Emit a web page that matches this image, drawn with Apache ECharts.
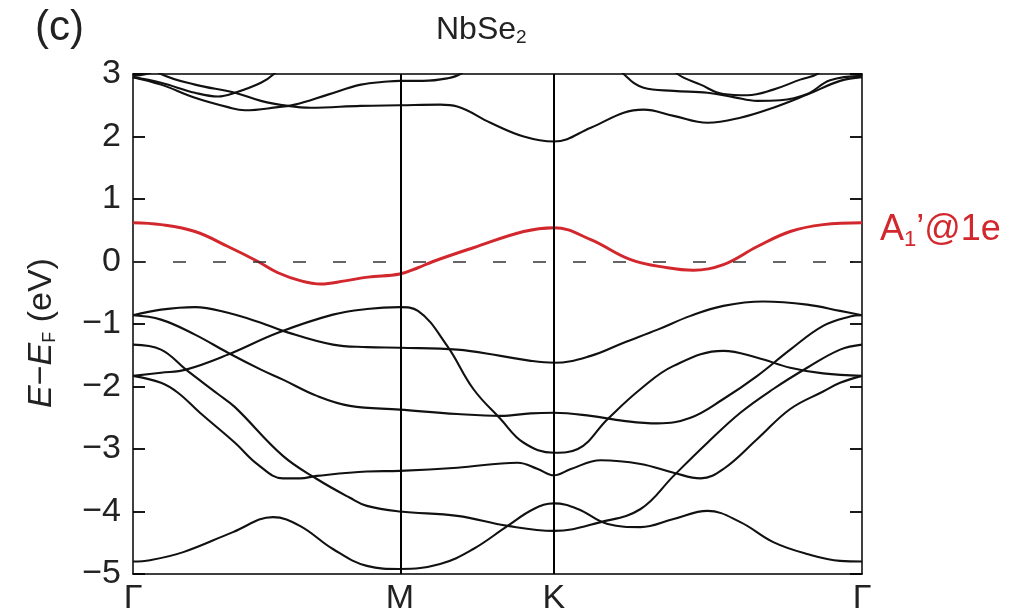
<!DOCTYPE html>
<html>
<head>
<meta charset="utf-8">
<script src="https://cdn.jsdelivr.net/npm/echarts@6/dist/echarts.min.js"></script>
<style>
html,body{margin:0;padding:0;background:#fff;}
#chart{width:1017px;height:616px;}
</style>
</head>
<body>
<div id="chart"></div>
<script>
// High-symmetry path positions (k-path length) and their labels
const kPoints = [0, 0.5774, 0.9107, 1.5774];
const kLabels = ['Γ', 'M', 'K', 'Γ'];
const yTicks = [-5, -4, -3, -2, -1, 0, 1, 2, 3];

// Highlighted band A1'@1e  [k, E-EF]
const bandRed = [[0,0.62],[0.0606,0.59],[0.1341,0.48],[0.2054,0.24],[0.2703,0.0],[0.3136,-0.18],[0.3635,-0.31],[0.4066,-0.36],[0.4585,-0.31],[0.5082,-0.25],[0.5774,-0.20],[0.6166,-0.10],[0.6493,0.0],[0.7364,0.22],[0.8454,0.48],[0.9107,0.54],[0.9905,0.35],[1.0768,0.03],[1.1567,-0.10],[1.2128,-0.14],[1.2775,-0.05],[1.3509,0.24],[1.4221,0.48],[1.4933,0.59],[1.5774,0.62]];

// Valence bands
const bandA = [[0,-0.86],[0.0606,-0.77],[0.1341,-0.73],[0.2054,-0.82],[0.2768,-0.98],[0.3244,-1.11],[0.4325,-1.33],[0.5060,-1.37],[0.5774,-1.38],[0.7016,-1.41],[0.7953,-1.51],[0.8606,-1.59],[0.9107,-1.62],[0.9905,-1.51],[1.0617,-1.30],[1.1351,-1.09],[1.2063,-0.87],[1.2775,-0.71],[1.3638,-0.64],[1.4588,-0.69],[1.5300,-0.79],[1.5774,-0.86]];
const bandB = [[0,-0.86],[0.0606,-0.93],[0.1341,-1.17],[0.2054,-1.46],[0.2768,-1.73],[0.3244,-1.89],[0.3979,-2.15],[0.4693,-2.31],[0.5774,-2.37],[0.7016,-2.44],[0.7953,-2.47],[0.8606,-2.43],[0.9107,-2.42],[0.9905,-2.47],[1.0617,-2.55],[1.1351,-2.59],[1.2063,-2.50],[1.2775,-2.20],[1.3509,-1.83],[1.4221,-1.41],[1.4933,-1.03],[1.5516,-0.88],[1.5774,-0.86]];
const bandC = [[0,-1.83],[0.0606,-1.78],[0.1146,-1.73],[0.2054,-1.49],[0.3136,-1.14],[0.4325,-0.85],[0.5060,-0.76],[0.5774,-0.73],[0.6166,-0.79],[0.6798,-1.35],[0.7364,-2.04],[0.7953,-2.52],[0.8454,-2.90],[0.9107,-3.06],[0.9625,-3.00],[1.0272,-2.52],[1.0984,-2.04],[1.1697,-1.67],[1.2775,-1.43],[1.3509,-1.54],[1.4221,-1.70],[1.4933,-1.79],[1.5774,-1.83]];
const bandD = [[0,-1.33],[0.0606,-1.41],[0.1146,-1.73],[0.1838,-2.12],[0.2206,-2.33],[0.3244,-3.11],[0.3979,-3.48],[0.4693,-3.78],[0.5060,-3.91],[0.5774,-4.00],[0.7016,-4.07],[0.8105,-4.23],[0.9107,-4.31],[1.0121,-4.17],[1.0984,-3.96],[1.1697,-3.43],[1.2430,-2.90],[1.3142,-2.42],[1.3854,-2.04],[1.4588,-1.70],[1.5300,-1.41],[1.5774,-1.33]];
const bandE = [[0,-1.83],[0.0606,-1.94],[0.0973,-2.10],[0.1449,-2.42],[0.2206,-2.90],[0.2703,-3.25],[0.3244,-3.47],[0.3611,-3.47],[0.3979,-3.43],[0.5060,-3.36],[0.5774,-3.35],[0.7016,-3.30],[0.8323,-3.22],[0.8759,-3.32],[0.9107,-3.42],[0.9474,-3.32],[1.0121,-3.18],[1.0984,-3.24],[1.1697,-3.38],[1.2281,-3.47],[1.2775,-3.32],[1.3509,-2.84],[1.4221,-2.36],[1.4933,-2.08],[1.5300,-1.94],[1.5774,-1.83]];
const bandF = [[0,-4.80],[0.0368,-4.78],[0.1088,-4.65],[0.2163,-4.33],[0.3028,-4.09],[0.3611,-4.23],[0.4325,-4.60],[0.5060,-4.87],[0.5774,-4.92],[0.6645,-4.84],[0.7364,-4.60],[0.8105,-4.23],[0.8672,-3.96],[0.9107,-3.87],[0.9625,-3.96],[1.0272,-4.20],[1.0984,-4.25],[1.1697,-4.12],[1.2430,-3.99],[1.3142,-4.17],[1.3854,-4.49],[1.4588,-4.68],[1.5300,-4.79],[1.5774,-4.80]];

// Conduction bands (partly above the plotted window)
const bandC1 = [[0,2.95],[0.0606,2.83],[0.1341,2.62],[0.2054,2.47],[0.2422,2.42],[0.3136,2.47],[0.3503,2.51],[0.4217,2.67],[0.4931,2.83],[0.5514,2.88],[0.5774,2.89],[0.6275,2.89],[0.6798,2.93],[0.7081,3.0],[0.7364,3.2]];
const bandC2 = [[0,3.3],[0.0606,3.0],[0.1341,2.83],[0.2206,2.70],[0.2768,2.57],[0.3352,2.49],[0.3849,2.46],[0.4931,2.49],[0.5774,2.50],[0.6645,2.51],[0.7016,2.48],[0.7735,2.22],[0.8454,2.00],[0.9107,1.92],[0.9905,2.14],[1.0617,2.38],[1.1049,2.43],[1.1697,2.33],[1.2430,2.22],[1.3142,2.30],[1.3854,2.46],[1.4588,2.67],[1.5300,2.89],[1.5774,2.95]];
const bandC3 = [[0,2.95],[0.0606,2.86],[0.1341,2.70],[0.1838,2.64],[0.2206,2.70],[0.2768,2.86],[0.3049,3.0],[0.3352,3.25]];
const bandC4 = [[0,2.97],[0.0368,3.02],[0.0606,3.15]];
const bandC5 = [[1.0272,3.3],[1.0617,3.0],[1.1049,2.78],[1.1697,2.73],[1.2430,2.70],[1.2991,2.63],[1.3509,2.57],[1.4005,2.58],[1.4588,2.68],[1.5084,2.90],[1.5774,2.97]];
const bandC6 = [[1.1567,3.2],[1.1783,3.0],[1.2281,2.83],[1.2775,2.68],[1.3293,2.66],[1.3854,2.75],[1.4437,2.91],[1.4803,3.0],[1.5084,3.2]];

const blackBands = [bandA, bandB, bandC, bandD, bandE, bandF, bandC1, bandC2, bandC3, bandC4, bandC5, bandC6];

const chart = echarts.init(document.getElementById('chart'), null, {renderer: 'canvas'});
const FONT = '"Liberation Sans", Arial, Helvetica, sans-serif';
const RED = '#d2272d';
const TXT = '#222';

const series = [];
// reference lines (high-symmetry verticals + Fermi level)
series.push({
  type: 'line', data: [], z: 1, silent: true,
  markLine: {
    silent: true, symbol: ['none', 'none'], label: {show: false},
    animation: false,
    data: [
      {yAxis: 0, lineStyle: {color: '#333', width: 1.5, type: [13, 27]}},
      {xAxis: kPoints[1], lineStyle: {color: '#000', width: 2, type: 'solid'}},
      {xAxis: kPoints[2], lineStyle: {color: '#000', width: 2, type: 'solid'}}
    ]
  }
});
blackBands.forEach(function (b) {
  series.push({
    type: 'line', data: b, showSymbol: false, smooth: 0.4, clip: true, z: 3,
    lineStyle: {color: '#111', width: 2.1}, silent: true
  });
});
series.push({
  type: 'line', data: bandRed, showSymbol: false, smooth: 0.4, clip: true, z: 4,
  lineStyle: {color: RED, width: 3}, silent: true
});

function labelFor(v) {
  for (let i = 0; i < kPoints.length; i++) if (Math.abs(v - kPoints[i]) < 1e-6) return kLabels[i];
  return '';
}

const option = {
  animation: false,
  backgroundColor: '#fff',
  grid: {left: 133, right: 155, top: 74, bottom: 41},
  xAxis: [{
    type: 'value', min: kPoints[0], max: kPoints[3], position: 'bottom',
    axisLine: {show: true, onZero: false, lineStyle: {color: '#000', width: 1.5}},
    axisTick: {show: false}, splitLine: {show: false},
    axisLabel: {
      customValues: kPoints, formatter: labelFor,
      fontSize: 34, color: TXT, margin: 8, fontFamily: FONT
    }
  }, {
    type: 'value', min: kPoints[0], max: kPoints[3], position: 'top',
    axisLine: {show: true, onZero: false, lineStyle: {color: '#000', width: 1.5}},
    axisTick: {show: false}, splitLine: {show: false}, axisLabel: {show: false}
  }],
  yAxis: [{
    type: 'value', min: yTicks[0], max: yTicks[yTicks.length - 1], interval: 1, position: 'left',
    axisLine: {show: true, onZero: false, lineStyle: {color: '#000', width: 1.5}},
    axisTick: {show: true, inside: true, length: 12, lineStyle: {color: '#000', width: 1.8}},
    splitLine: {show: false},
    axisLabel: {
      fontSize: 34, color: TXT, margin: 12, fontFamily: FONT,
      formatter: function (v) { return String(v).replace('-', '\u2212'); }
    }
  }, {
    type: 'value', min: yTicks[0], max: yTicks[yTicks.length - 1], interval: 1, position: 'right',
    axisLine: {show: true, onZero: false, lineStyle: {color: '#000', width: 1.5}},
    axisTick: {show: true, inside: true, length: 12, lineStyle: {color: '#000', width: 1.8}},
    splitLine: {show: false}, axisLabel: {show: false}
  }],
  graphic: [
    {type: 'text', left: 35, top: 7, style: {text: '(c)', fontSize: 42, fill: TXT, fontFamily: FONT}},
    {type: 'text', left: 436, top: 14, style: {
      text: 'NbSe{s|2}', fontSize: 32, fill: TXT, fontFamily: FONT,
      rich: {s: {fontSize: 19, fill: TXT, fontFamily: FONT, verticalAlign: 'bottom', padding: [15, 0, 0, 0]}}
    }},
    {type: 'text', x: 42, y: 333, rotation: Math.PI / 2, style: {
      text: '{i|E}\u2212{i|E}{s|F} (eV)', fontSize: 34, fill: TXT, fontFamily: FONT,
      align: 'center', verticalAlign: 'middle',
      rich: {
        i: {fontStyle: 'italic', fontSize: 34, fill: TXT, fontFamily: FONT},
        s: {fontSize: 18, fill: TXT, fontFamily: FONT, verticalAlign: 'bottom', padding: [14, 0, 0, 0]}
      }
    }},
    {type: 'text', left: 880, top: 212, style: {
      text: 'A{s|1}\u2019@1e', fontSize: 36, fill: RED, fontFamily: FONT,
      rich: {s: {fontSize: 22, fill: RED, fontFamily: FONT, verticalAlign: 'bottom', padding: [20, 0, 0, 0]}}
    }}
  ],
  series: series
};
chart.setOption(option);
</script>
</body>
</html>
